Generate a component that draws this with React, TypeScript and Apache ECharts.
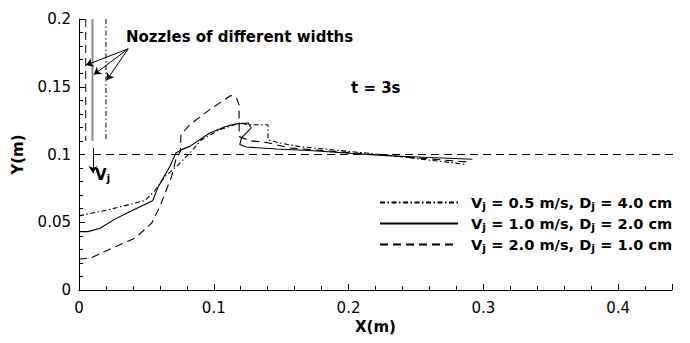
import React, { useEffect, useRef } from "react";
import * as echarts from "echarts";

// Interface profiles at t = 3 s for three jet configurations
const seriesNames = [
  "Vj = 0.5 m/s, Dj = 4.0 cm",
  "Vj = 1.0 m/s, Dj = 2.0 cm",
  "Vj = 2.0 m/s, Dj = 1.0 cm",
];
const jetSpeeds = ["0.5", "1.0", "2.0"];
const jetWidths = ["4.0", "2.0", "1.0"];

// Vj = 0.5 m/s, Dj = 4.0 cm (dash-dot)
const profileA: [number, number][] = [
  [0, 0.0547], [0.0217, 0.0592], [0.0489, 0.066], [0.0563, 0.0734],
  [0.0637, 0.0838], [0.0724, 0.0912], [0.0822, 0.1011], [0.0909, 0.1109],
  [0.1044, 0.1183], [0.1193, 0.1233], [0.1254, 0.122], [0.1402, 0.122],
  [0.1402, 0.1109], [0.1489, 0.1085], [0.1637, 0.1058], [0.2252, 0.0999],
  [0.2867, 0.0928],
];

// Vj = 1.0 m/s, Dj = 2.0 cm (solid)
const profileB: [number, number][] = [
  [0, 0.0431], [0.0067, 0.0431], [0.0156, 0.0456], [0.0267, 0.0523],
  [0.0353, 0.0567], [0.0546, 0.0658], [0.0587, 0.076], [0.0674, 0.0912],
  [0.0719, 0.1011], [0.0761, 0.1036], [0.0822, 0.106], [0.097, 0.1159],
  [0.1094, 0.1208], [0.1168, 0.1226], [0.1254, 0.1233], [0.1279, 0.1196],
  [0.1205, 0.1122], [0.1193, 0.1073], [0.1242, 0.1055], [0.1464, 0.1041],
  [0.1711, 0.103], [0.2252, 0.0993], [0.2919, 0.0965],
];

// Vj = 2.0 m/s, Dj = 1.0 cm (dashed)
const profileC: [number, number][] = [
  [0, 0.0229], [0.0081, 0.0233], [0.0217, 0.0296], [0.0415, 0.0382],
  [0.0539, 0.0493], [0.06, 0.0616], [0.0687, 0.0838], [0.0719, 0.0962],
  [0.0752, 0.1023], [0.0756, 0.1146], [0.0822, 0.122], [0.097, 0.1331],
  [0.1126, 0.1435], [0.1168, 0.1418], [0.1187, 0.1368], [0.1189, 0.1132],
  [0.1267, 0.1102], [0.14, 0.1087], [0.1563, 0.1048], [0.2252, 0.0995],
  [0.288, 0.0945],
];

// Nozzle edges (half widths, m) drawn from the top of the domain
const nozzleEdges = [0.02, 0.01, 0.005];
const nozzleTop = 0.2;
const nozzleBottom = 0.11;

// Initial water level
const waterLevel = 0.1;
const waterLevelSpan: [number, number] = [0.0104, 0.452];

// Annotation arrows (data coordinates)
const nozzleArrowFrom: [number, number] = [0.0365, 0.178];
const nozzleArrowTips: [number, number][] = [
  [0.0052, 0.166], [0.0111, 0.159], [0.0205, 0.1548],
];
const jetArrow: [number, number][] = [[0.0104, 0.1048], [0.0104, 0.0863]];

const xTicks = { min: 0, max: 0.44, interval: 0.1 };
const yTicks = { min: 0, max: 0.2, interval: 0.05 };

const FONT = "DejaVu Sans";
const dashDot = [5, 2.5, 1.5, 2.5];
const dashed = [8, 5];

function richLabel(i: number) {
  return `{b|V}{s|j}{b| = ${jetSpeeds[i]} m/s, D}{s|j}{b| = ${jetWidths[i]} cm}`;
}

export default function App() {
  const ref = useRef<HTMLDivElement>(null);

  useEffect(() => {
    if (!ref.current) return;
    const chart = echarts.init(ref.current, undefined, { renderer: "svg" });

    const makeRich = (size: number, sub: number) => ({
      b: { fontFamily: FONT, fontWeight: "bold", fontSize: size, lineHeight: 18, color: "#000" },
      s: { fontFamily: FONT, fontWeight: "bold", fontSize: sub, lineHeight: sub, padding: [8, 0, 0, 0], color: "#000" },
    });

    const profileStyles = [
      { type: dashDot, width: 1.1 },
      { type: "solid", width: 1.1 },
      { type: dashed, width: 1.1 },
    ];
    const profiles = [profileA, profileB, profileC];

    const nozzleStyles = [
      { color: "#000", width: 1, type: dashDot },
      { color: "#8a8a8a", width: 2, type: "solid" },
      { color: "#000", width: 1, type: dashed },
    ];

    const option: any = {
      animation: false,
      backgroundColor: "#fff",
      grid: { left: 79, right: 18, top: 19, bottom: 53 },
      xAxis: {
        type: "value",
        min: xTicks.min,
        max: xTicks.max,
        interval: xTicks.interval,
        name: "X(m)",
        nameLocation: "middle",
        nameGap: 29,
        nameTextStyle: { fontFamily: FONT, fontWeight: "bold", fontSize: 15, color: "#000" },
        axisLine: { lineStyle: { color: "#000", width: 1 } },
        axisTick: { inside: true, length: 6, lineStyle: { color: "#000" } },
        minorTick: { show: true, splitNumber: 5, length: 4, lineStyle: { color: "#000" } },
        axisLabel: {
          fontFamily: FONT,
          fontSize: 15,
          color: "#000",
          margin: 10,
          showMaxLabel: false,
          formatter: (v: number) => String(+v.toFixed(2)),
        },
        splitLine: { show: false },
      },
      yAxis: {
        type: "value",
        min: yTicks.min,
        max: yTicks.max,
        interval: yTicks.interval,
        name: "Y(m)",
        nameLocation: "middle",
        nameRotate: 90,
        nameGap: 54,
        nameTextStyle: { fontFamily: FONT, fontWeight: "bold", fontSize: 15, color: "#000" },
        axisLine: { lineStyle: { color: "#000", width: 1 } },
        axisTick: { inside: true, length: 6, lineStyle: { color: "#000" } },
        minorTick: { show: true, splitNumber: 5, length: 4, lineStyle: { color: "#000" } },
        axisLabel: {
          fontFamily: FONT,
          fontSize: 15,
          color: "#000",
          margin: 8,
          formatter: (v: number) => String(+v.toFixed(2)),
        },
        splitLine: { show: false },
      },
      legend: {
        data: seriesNames,
        orient: "vertical",
        left: 379,
        top: 193,
        padding: 0,
        itemWidth: 78,
        itemHeight: 12,
        itemGap: 2,
        selectedMode: false,
        itemStyle: { opacity: 0 },
        formatter: (name: string) => richLabel(seriesNames.indexOf(name)),
        textStyle: { fontFamily: FONT, fontWeight: "bold", fontSize: 14.6, color: "#000", padding: [0, 0, 0, 8], rich: makeRich(14.6, 11) },
      },
      series: [
        ...profiles.map((data, i) => ({
          name: seriesNames[i],
          type: "line",
          data,
          showSymbol: false,
          symbol: "none",
          symbolSize: 0,
          color: "#000",
          lineStyle: { color: "#000", ...profileStyles[i] },
          z: 3,
        })),
        ...nozzleEdges.map((x, i) => ({
          name: `nozzle-${i}`,
          type: "line",
          data: [[x, nozzleTop], [x, nozzleBottom]],
          symbol: "none",
          lineStyle: nozzleStyles[i],
          z: 2,
        })),
        {
          name: "water-level",
          type: "line",
          data: [[waterLevelSpan[0], waterLevel], [waterLevelSpan[1], waterLevel]],
          symbol: "none",
          clip: false,
          lineStyle: { color: "#000", width: 1, type: dashed },
          z: 1,
        },
        {
          name: "arrows",
          type: "lines",
          coordinateSystem: "cartesian2d",
          symbol: ["none", "arrow"],
          symbolSize: 7,
          lineStyle: { color: "#000", width: 1, opacity: 1 },
          data: [
            ...nozzleArrowTips.map((tip) => ({ coords: [nozzleArrowFrom, tip] })),
            { coords: jetArrow },
          ],
          z: 4,
        },
      ],
      graphic: [
        {
          type: "text",
          left: 126,
          top: 29,
          style: { text: "Nozzles of different widths", fontFamily: FONT, fontWeight: "bold", fontSize: 15, fill: "#000" },
        },
        {
          type: "text",
          left: 351,
          top: 80,
          style: { text: "t = 3s", fontFamily: FONT, fontWeight: "bold", fontSize: 15, fill: "#000" },
        },
        {
          type: "text",
          left: 95,
          top: 165,
          style: { text: "{b|V}{s|j}", rich: makeRich(15, 11), fill: "#000" },
        },
      ],
    };

    chart.setOption(option);
    return () => chart.dispose();
  }, []);

  return (
    <div
      ref={ref}
      style={{ position: "absolute", left: 0, top: 0, width: 690, height: 343 }}
    />
  );
}
